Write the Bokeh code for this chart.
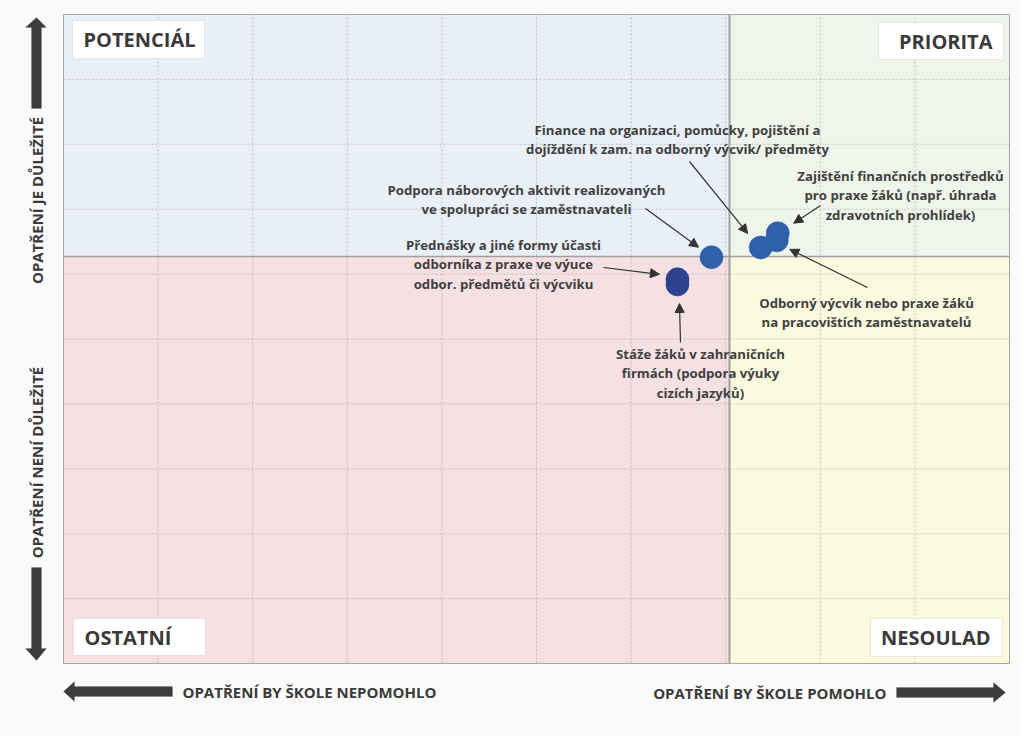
import math
from bokeh.plotting import figure
from bokeh.models import (Range1d, ColumnDataSource, Arrow, NormalHead,
                          BoxAnnotation, Label, PolyAnnotation)
from bokeh.core.properties import value
from bokeh.embed import file_html
from bokeh.resources import INLINE

# ---------------- data ----------------
measures = [
    "Finance na organizaci, pomůcky, pojištění a\ndojíždění k zam. na odborný výcvik/ předměty",
    "Zajištění finančních prostředků\npro praxe žáků (např. úhrada\nzdravotních prohlídek)",
    "Podpora náborových aktivit realizovaných\nve spolupráci se zaměstnavateli",
    "Přednášky a jiné formy účasti\nodborníka z praxe ve výuce\nodbor. předmětů či výcviku",
    "Stáže žáků v zahraničních\nfirmách (podpora výuky\ncizích jazyků)",
    "Odborný výcvik nebo praxe žáků\nna pracovištích zaměstnavatelů",
]
pomohlo = [7.37, 7.55, 6.85, 6.49, 6.49, 7.54]     # x: would the measure help the school
dulezite = [6.41, 6.63, 6.26, 5.92, 5.84, 6.52]    # y: is the measure important
x_divider = 7.04
y_divider = 6.27
x_min, x_max = 0, 10
y_min, y_max = 0, 10
grid_ticks = list(range(0, 11))
quadrant_names = ["POTENCIÁL", "PRIORITA", "OSTATNÍ", "NESOULAD"]
axis_texts = ["OPATŘENÍ JE DŮLEŽITÉ", "OPATŘENÍ NENÍ DŮLEŽITÉ",
              "OPATŘENÍ BY ŠKOLE NEPOMOHLO", "OPATŘENÍ BY ŠKOLE POMOHLO"]

# ---------------- styles / layout ----------------
point_colors = ["#2F60AA", "#2F60AA", "#2F60AA", "#2C4190", "#2C4190", "#2F60AA"]
quad_colors = ["#EAF0F8", "#EFF5EA", "#F5E1E4", "#FAFADF"]
TXT = "#404040"
DARK = "#3A3A3A"
FONT = "Open Sans"

W, H = 1020, 735
# position of the plotting area on the page (pixels)
L, R, T, B = 63, 1009, 14, 663
def X(px):
    return (px - L) / (R - L) * (x_max - x_min) + x_min
def Y(py):
    return (B - py) / (B - T) * (y_max - y_min) + y_min
sx = (x_max - x_min) / (R - L)
sy = (y_max - y_min) / (B - T)

label_pos = [(677, 139), (900, 195), (526, 199), (503, 264), (700, 373), (866, 312)]
arrow_start = [(689, 161), (820, 205), (645, 208), (603, 267), (680, 342), (867, 287)]
arrow_off = [(-13, -14), (16, -10), (-13, -10), (-18, -5), (2, 19), (13, 9)]

p = figure(width=W, height=H, output_backend="svg", toolbar_location=None,
           x_range=Range1d(X(0), X(W)), y_range=Range1d(Y(H), Y(0)),
           min_border=0)
p.axis.visible = False
p.grid.visible = False
p.background_fill_color = "#FAFAFA"
p.border_fill_color = "#FAFAFA"
p.outline_line_color = None

# quadrant backgrounds
qsrc = ColumnDataSource(dict(
    left=[x_min, x_divider, x_min, x_divider],
    right=[x_divider, x_max, x_divider, x_max],
    bottom=[y_divider, y_divider, y_min, y_min],
    top=[y_max, y_max, y_divider, y_divider],
    color=quad_colors))
p.quad(left="left", right="right", bottom="bottom", top="top", fill_color="color",
       line_color=None, source=qsrc)

# grid lines (only inside the plotting area)
inner = grid_ticks[1:-1]
p.segment(x0=inner, y0=[y_min] * len(inner), x1=inner, y1=[y_max] * len(inner),
          line_color="#8C8C8C", line_alpha=0.45, line_dash="2 2", line_width=1)
p.segment(x0=[x_min] * len(inner), y0=inner, x1=[x_max] * len(inner), y1=inner,
          line_color="#8C8C8C", line_alpha=0.45, line_dash="2 2", line_width=1)

# quadrant dividers and outline
p.segment(x0=[x_divider], y0=[y_min], x1=[x_divider], y1=[y_max],
          line_color="#A0A0A0", line_width=2)
p.segment(x0=[x_min], y0=[y_divider], x1=[x_max], y1=[y_divider],
          line_color="#A0A0A0", line_width=1.5)
p.quad(left=[x_min], right=[x_max], bottom=[y_min], top=[y_max],
       fill_color=None, line_color="#A8A8A8", line_width=1)

# quadrant label boxes
boxes = [(72, 20, 204, 58, "left", 83), (878, 22, 1003, 59, "right", 992),
         (73, 618, 205, 655, "left", 84), (870, 618, 1002, 656, "right", 990)]
for name, (bl, bt, br, bb, al, tx) in zip(quadrant_names, boxes):
    p.add_layout(BoxAnnotation(left=X(bl), right=X(br), top=Y(bt), bottom=Y(bb),
                               fill_color="#FFFFFF", fill_alpha=1.0,
                               line_color="#B8B8B8", line_width=1, level="annotation"))
    p.add_layout(Label(x=X(tx), y=Y((bt + bb) / 2), text=name, text_align=al,
                       text_baseline="middle", text_font=FONT, text_font_style="bold",
                       text_font_size="20px", text_color=DARK))

# annotation arrows
asrc = ColumnDataSource(dict(
    x0=[X(a[0]) for a in arrow_start], y0=[Y(a[1]) for a in arrow_start],
    x1=[x + o[0] * sx for x, o in zip(pomohlo, arrow_off)],
    y1=[y - o[1] * sy for y, o in zip(dulezite, arrow_off)]))
p.add_layout(Arrow(x_start="x0", y_start="y0", x_end="x1", y_end="y1", source=asrc,
                   line_color="#333333", line_width=1.2,
                   end=NormalHead(size=9, fill_color="#333333", line_color="#333333")))

# points
psrc = ColumnDataSource(dict(x=pomohlo, y=dulezite, c=point_colors))
p.scatter("x", "y", source=psrc, size=23, fill_color="c", line_color="c", line_alpha=0.6)

# measure texts
tsrc = ColumnDataSource(dict(x=[X(a[0]) for a in label_pos], y=[Y(a[1]) for a in label_pos],
                             t=measures))
p.text("x", "y", text="t", source=tsrc, text_align="center", text_baseline="middle",
       text_font=value(FONT), text_font_style="bold", text_font_size="13.2px",
       text_color=TXT, text_line_height=1.1)

# axis descriptions
p.add_layout(Label(x=X(36), y=Y(200), text=axis_texts[0], angle=math.pi / 2,
                   text_align="center", text_baseline="middle", text_font=FONT,
                   text_font_style="bold", text_font_size="15px", text_color=DARK))
p.add_layout(Label(x=X(36), y=Y(462), text=axis_texts[1], angle=math.pi / 2,
                   text_align="center", text_baseline="middle", text_font=FONT,
                   text_font_style="bold", text_font_size="15px", text_color=DARK))
p.add_layout(Label(x=X(182), y=Y(691), text=axis_texts[2], text_align="left",
                   text_baseline="middle", text_font=FONT, text_font_style="bold",
                   text_font_size="15px", text_color=DARK))
p.add_layout(Label(x=X(886), y=Y(692), text=axis_texts[3], text_align="right",
                   text_baseline="middle", text_font=FONT, text_font_style="bold",
                   text_font_size="15px", text_color=DARK))

# big direction arrows
shapes = [
    [(31, 108), (31, 27), (25, 27), (36, 17), (46, 27), (41, 27), (41, 108)],
    [(31, 567), (31, 648), (25, 648), (36, 660), (46, 648), (41, 648), (41, 567)],
    [(172, 686), (74, 686), (74, 681), (63, 691), (74, 701), (74, 696), (172, 696)],
    [(896, 687), (993, 687), (993, 682), (1005, 692), (993, 702), (993, 697), (896, 697)],
]
for sh in shapes:
    p.add_layout(PolyAnnotation(xs=[X(a) for a, b in sh], ys=[Y(b) for a, b in sh],
                                fill_color="#3C3C3C", fill_alpha=1.0, line_color="#3C3C3C",
                                line_width=0.5))

open("out.html", "w").write(file_html(p, INLINE))
